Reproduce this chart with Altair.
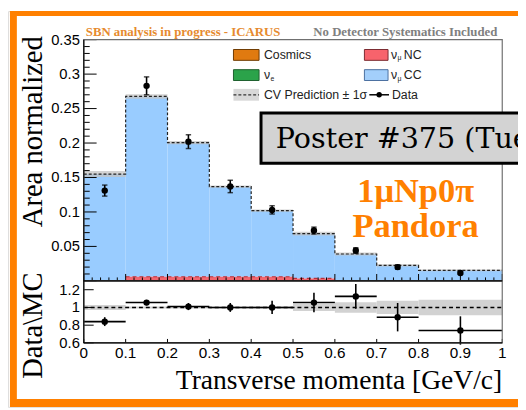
import altair as alt
import pandas as pd

# ---------------- data ----------------
bin_lo = [0.0, 0.1, 0.2, 0.3, 0.4, 0.5, 0.6, 0.7, 0.8]
bin_hi = [0.1, 0.2, 0.3, 0.4, 0.5, 0.6, 0.7, 0.8, 1.0]
bin_center = [0.05, 0.15, 0.25, 0.35, 0.45, 0.55, 0.65, 0.75, 0.9]

mc_cosmics = [0.0, 0.0, 0.0, 0.0, 0.0, 0.0, 0.0, 0.0, 0.0]
mc_nue = [0.0, 0.0, 0.0, 0.0, 0.0, 0.0, 0.0, 0.0, 0.0]
mc_numu_nc = [0.0, 0.006, 0.006, 0.006, 0.006, 0.0035, 0.0, 0.0, 0.0]
mc_numu_cc = [0.155, 0.2616, 0.1945, 0.1307, 0.096, 0.0651, 0.039, 0.0224, 0.0153]
cv_rel_unc = [0.028, 0.012, 0.012, 0.012, 0.015, 0.04, 0.06, 0.075, 0.087]

data_val = [0.131, 0.283, 0.202, 0.137, 0.103, 0.073, 0.044, 0.020, 0.0115]
data_err = [0.008, 0.013, 0.010, 0.009, 0.006, 0.005, 0.004, 0.003, 0.002]

ratio_val = [0.84, 1.055, 1.01, 1.0, 1.0, 1.055, 1.125, 0.89, 0.74]
ratio_err = [0.05, 0.03, 0.04, 0.05, 0.075, 0.11, 0.14, 0.16, 0.16]

upper_major = [0.0, 0.05, 0.1, 0.15, 0.2, 0.25, 0.3, 0.35]
upper_labels = ["0.05", "0.1", "0.15", "0.2", "0.25", "0.3", "0.35"]
upper_label_vals = [0.05, 0.1, 0.15, 0.2, 0.25, 0.3, 0.35]
upper_minor = [round(i * 0.01, 2) for i in range(36) if i % 5 != 0]
lower_major = [0.6, 0.8, 1.0, 1.2]
lower_labels = ["0.6", "0.8", "1", "1.2"]
x_major = [0.0, 0.1, 0.2, 0.3, 0.4, 0.5, 0.6, 0.7, 0.8, 0.9, 1.0]
x_labels = ["0", "0.1", "0.2", "0.3", "0.4", "0.5", "0.6", "0.7", "0.8", "0.9", "1"]
x_minor = [round(i * 0.02, 2) for i in range(51) if i % 5 != 0]

# ---------------- tables ----------------
df = pd.DataFrame({
    "lo": bin_lo, "hi": bin_hi, "c": bin_center,
    "cos": mc_cosmics, "nue": mc_nue, "nc": mc_numu_nc, "cc": mc_numu_cc,
    "unc": cv_rel_unc, "d": data_val, "de": data_err,
    "r": ratio_val, "re": ratio_err,
})
df["zero"] = 0.0
df["base"] = df["cos"] + df["nue"] + df["nc"]
df["total"] = df["base"] + df["cc"]
df["blo"] = df["total"] * (1 - df["unc"])
df["bhi"] = df["total"] * (1 + df["unc"])
df["dlo"] = df["d"] - df["de"]
df["dhi"] = df["d"] + df["de"]
df["rblo"] = 1 - df["unc"]
df["rbhi"] = 1 + df["unc"]
df["rlo"] = df["r"] - df["re"]
df["rhi"] = df["r"] + df["re"]

step = pd.DataFrame({"x": bin_lo + [bin_hi[-1]],
                     "y": list(df["total"]) + [df["total"].iloc[-1]]})

# ---------------- geometry (chart pixels) ----------------
XL, XR = 77, 502
UT, UB = 29, 274
LT, LB = 274, 337

X = alt.Scale(domain=[0, 1], range=[XL, XR], nice=False, zero=False)
YU = alt.Scale(domain=[0, 0.35], range=[UB, UT], nice=False, zero=False)
YL = alt.Scale(domain=[0.6, 1.3], range=[LB, LT], nice=False, zero=False)

SANS = "Liberation Sans"
SERIF = "Liberation Serif"


def xq(f):
    return alt.X(f + ":Q", scale=X, axis=None)


def yu(f):
    return alt.Y(f + ":Q", scale=YU, axis=None)


def yl(f):
    return alt.Y(f + ":Q", scale=YL, axis=None)


base = alt.Chart(df)
layers = []

# ---- upper panel ----
layers.append(base.mark_rect(color="#99CCFF").encode(
    x=xq("lo"), x2="hi:Q", y=yu("base"), y2="total:Q"))
layers.append(base.mark_rect(color="#F2666F").encode(
    x=xq("lo"), x2="hi:Q", y=yu("zero"), y2="nc:Q"))
layers.append(base.transform_filter("datum.nc > 0").mark_rule(
    color="#B8303C", strokeDash=[4, 3], strokeWidth=1.2).encode(
    x=xq("lo"), x2="hi:Q", y=yu("nc")))
layers.append(base.mark_rect(color="#C4C4C4", opacity=0.75).encode(
    x=xq("lo"), x2="hi:Q", y=yu("blo"), y2="bhi:Q"))
layers.append(alt.Chart(step).mark_line(
    interpolate="step-after", color="#222222", strokeDash=[3, 2], strokeWidth=1.2).encode(
    x=xq("x"), y=yu("y")))

tick_df_u = pd.DataFrame({"v": upper_major})
tick_df_um = pd.DataFrame({"v": upper_minor})
layers.append(alt.Chart(tick_df_u).mark_rule(color="black", strokeWidth=1).encode(
    x=alt.value(XL), x2=alt.value(XL + 13), y=yu("v")))
layers.append(alt.Chart(tick_df_um).mark_rule(color="black", strokeWidth=1).encode(
    x=alt.value(XL), x2=alt.value(XL + 6), y=yu("v")))
layers.append(alt.Chart(pd.DataFrame({"v": upper_label_vals, "t": upper_labels})).mark_text(
    font=SANS, fontSize=15, align="right", baseline="middle", color="black").encode(
    x=alt.value(XL - 4), y=yu("v"), text="t:N"))

# x ticks on the upper panel bottom
layers.append(alt.Chart(pd.DataFrame({"v": x_major})).mark_rule(color="black").encode(
    x=xq("v"), y=alt.value(UB), y2=alt.value(UB - 7)))
layers.append(alt.Chart(pd.DataFrame({"v": x_minor})).mark_rule(color="black").encode(
    x=xq("v"), y=alt.value(UB), y2=alt.value(UB - 3.5)))

# data points
layers.append(base.mark_rule(color="black", strokeWidth=1.6).encode(
    x=xq("c"), y=yu("dlo"), y2="dhi:Q"))
layers.append(base.mark_point(shape="M-1,0L1,0", size=30, color="black",
                              strokeWidth=1.5, filled=False).encode(x=xq("c"), y=yu("dlo")))
layers.append(base.mark_point(shape="M-1,0L1,0", size=30, color="black",
                              strokeWidth=1.5, filled=False).encode(x=xq("c"), y=yu("dhi")))
layers.append(base.mark_point(shape="circle", size=42, color="black", filled=True,
                              opacity=1).encode(x=xq("c"), y=yu("d")))

# ---- lower panel ----
layers.append(base.mark_rect(color="#D2D2D2").encode(
    x=xq("lo"), x2="hi:Q", y=yl("rblo"), y2="rbhi:Q"))
layers.append(alt.Chart(pd.DataFrame({"v": [1.0]})).mark_rule(
    color="black", strokeDash=[4, 3], strokeWidth=1.4).encode(
    x=alt.value(XL), x2=alt.value(XR), y=yl("v")))
layers.append(base.mark_rule(color="black", strokeWidth=1.6).encode(
    x=xq("lo"), x2="hi:Q", y=yl("r")))
layers.append(base.mark_rule(color="black", strokeWidth=1.6).encode(
    x=xq("c"), y=yl("rlo"), y2="rhi:Q"))
layers.append(base.mark_point(shape="circle", size=42, color="black", filled=True,
                              opacity=1).encode(x=xq("c"), y=yl("r")))
layers.append(alt.Chart(pd.DataFrame({"v": lower_major})).mark_rule(color="black").encode(
    x=alt.value(XL), x2=alt.value(XL + 10), y=yl("v")))
layers.append(alt.Chart(pd.DataFrame({"v": lower_major, "t": lower_labels})).mark_text(
    font=SANS, fontSize=15, align="right", baseline="middle", color="black").encode(
    x=alt.value(XL - 4), y=yl("v"), text="t:N"))
layers.append(alt.Chart(pd.DataFrame({"v": x_major})).mark_rule(color="black").encode(
    x=xq("v"), y=alt.value(LB), y2=alt.value(LB - 4)))
layers.append(alt.Chart(pd.DataFrame({"v": x_major, "t": x_labels})).mark_text(
    font=SANS, fontSize=15.5, align="center", baseline="alphabetic", color="black").encode(
    x=xq("v"), y=alt.value(352), text="t:N"))


# ---- frames ----
def rect(x, x2, y, y2, fill=None, stroke=None, sw=1.0, opacity=1.0, corner=0):
    kw = {"strokeWidth": sw, "opacity": opacity}
    if fill is None:
        kw["fillOpacity"] = 0
        kw["fill"] = "white"
    else:
        kw["fill"] = fill
    if stroke is not None:
        kw["stroke"] = stroke
    if corner:
        kw["cornerRadius"] = corner
    return alt.Chart(pd.DataFrame({"a": [0]})).mark_rect(**kw).encode(
        x=alt.value(x), x2=alt.value(x2), y=alt.value(y), y2=alt.value(y2))


def line(x, x2, y, y2, color="black", sw=1.0, dash=None):
    kw = {"color": color, "strokeWidth": sw}
    if dash:
        kw["strokeDash"] = dash
    return alt.Chart(pd.DataFrame({"a": [0]})).mark_rule(**kw).encode(
        x=alt.value(x), x2=alt.value(x2), y=alt.value(y), y2=alt.value(y2))


def txt(s, x, y, size, font=SANS, color="black", align="left", weight="normal",
        angle=None, baseline="alphabetic"):
    kw = dict(font=font, fontSize=size, color=color, align=align,
              fontWeight=weight, baseline=baseline)
    if angle is not None:
        kw["angle"] = angle
    return alt.Chart(pd.DataFrame({"t": [s]})).mark_text(**kw).encode(
        x=alt.value(x), y=alt.value(y), text="t:N")


layers.append(rect(XL, XR, UT, UB, stroke="#707070", sw=1.2))
layers.append(rect(XL, XR, LT, LB, stroke="#707070", sw=1.2))
layers.append(line(XL, XL, UT, LB, sw=1.2))
layers.append(line(XL, XR, UB, UB, sw=1.2))
layers.append(line(XL, XR, LB, LB, sw=1.2))

# ---- header ----
layers.append(txt("SBN analysis in progress - ICARUS", 79, 25, 13, font=SERIF,
                  color="#E68A2E", weight="bold"))
layers.append(txt("No Detector Systematics Included", 497, 25, 13, font=SERIF,
                  color="#808080", weight="bold", align="right"))

# ---- legend ----
r1, r2, r3 = 44.5, 65, 85
layers.append(rect(229, 255, r1 - 5.5, r1 + 5.5, fill="#E07A10", stroke="#6E3A00"))
layers.append(txt("Cosmics", 260, r1, 12.5, baseline="middle", color="#222222"))
layers.append(rect(362, 386, r1 - 5.5, r1 + 5.5, fill="#F7636C", stroke="#7A2A30"))
layers.append(txt("ν", 389, r1, 12.5, baseline="middle", color="#222222"))
layers.append(txt("μ", 395.5, r1 + 3.5, 7, baseline="middle", color="#222222"))
layers.append(txt("NC", 402, r1, 12.5, baseline="middle", color="#222222"))

layers.append(rect(229, 255, r2 - 5.5, r2 + 5.5, fill="#2BA34A", stroke="#1D5E2D"))
layers.append(txt("ν", 260, r2, 12.5, baseline="middle", color="#222222"))
layers.append(txt("e", 266.5, r2 + 3.5, 7, baseline="middle", color="#222222"))
layers.append(rect(362, 386, r2 - 5.5, r2 + 5.5, fill="#A3CFFB", stroke="#4A6FA0"))
layers.append(txt("ν", 389, r2, 12.5, baseline="middle", color="#222222"))
layers.append(txt("μ", 395.5, r2 + 3.5, 7, baseline="middle", color="#222222"))
layers.append(txt("CC", 402, r2, 12.5, baseline="middle", color="#222222"))

layers.append(rect(229, 255, r3 - 6, r3 + 6, fill="#D8D8D8"))
layers.append(line(229, 255, r3, r3, color="#333333", sw=1.2, dash=[3, 2]))
layers.append(txt("CV Prediction ± 1σ", 260, r3, 12.5, baseline="middle", color="#222222"))
layers.append(line(367, 387, r3, r3, sw=1.5))
layers.append(alt.Chart(pd.DataFrame({"a": [0]})).mark_point(
    shape="circle", size=30, color="black", filled=True, opacity=1).encode(
    x=alt.value(377), y=alt.value(r3)))
layers.append(txt("Data", 390, r3, 12.5, baseline="middle", color="#222222"))

# ---- poster box & annotations ----
layers.append(rect(257, 530, 103.5, 154.5, fill="#D3D3D3", stroke="black", sw=3))
layers.append(txt("Poster #375 (Tue)", 272, 139, 29, font="DejaVu Serif"))
layers.append(txt("1μNp0π", 414, 194, 35, font=SERIF, color="#FF8000",
                  weight="bold", align="center"))
layers.append(txt("Pandora", 414, 229, 35, font=SERIF, color="#FF8000",
                  weight="bold", align="center"))

# ---- axis titles ----
layers.append(txt("Area normalized", 35, 122.5, 29, font=SERIF, angle=270, align="center"))
layers.append(txt("Data\\MC", 35, 319.5, 29, font=SERIF, angle=270, align="center"))
layers.append(txt("Transverse momenta [GeV/c]", 502, 384, 28, font=SERIF, align="right"))

# ---- orange frame ----
layers.append(rect(2, 9, 0, 402, fill="#FF8000"))
layers.append(rect(2, 518, 0, 5, fill="#FF8000"))
layers.append(rect(2, 518, 394, 402, fill="#FF8000"))

chart = alt.layer(*layers).resolve_scale(y="independent").properties(
    width=518, height=402,
    autosize=alt.AutoSizeParams(type="none"),
    padding=0,
).configure_view(stroke=None).configure(background="white")

chart.save("out.html", embed_options={"renderer": "svg", "actions": False})
